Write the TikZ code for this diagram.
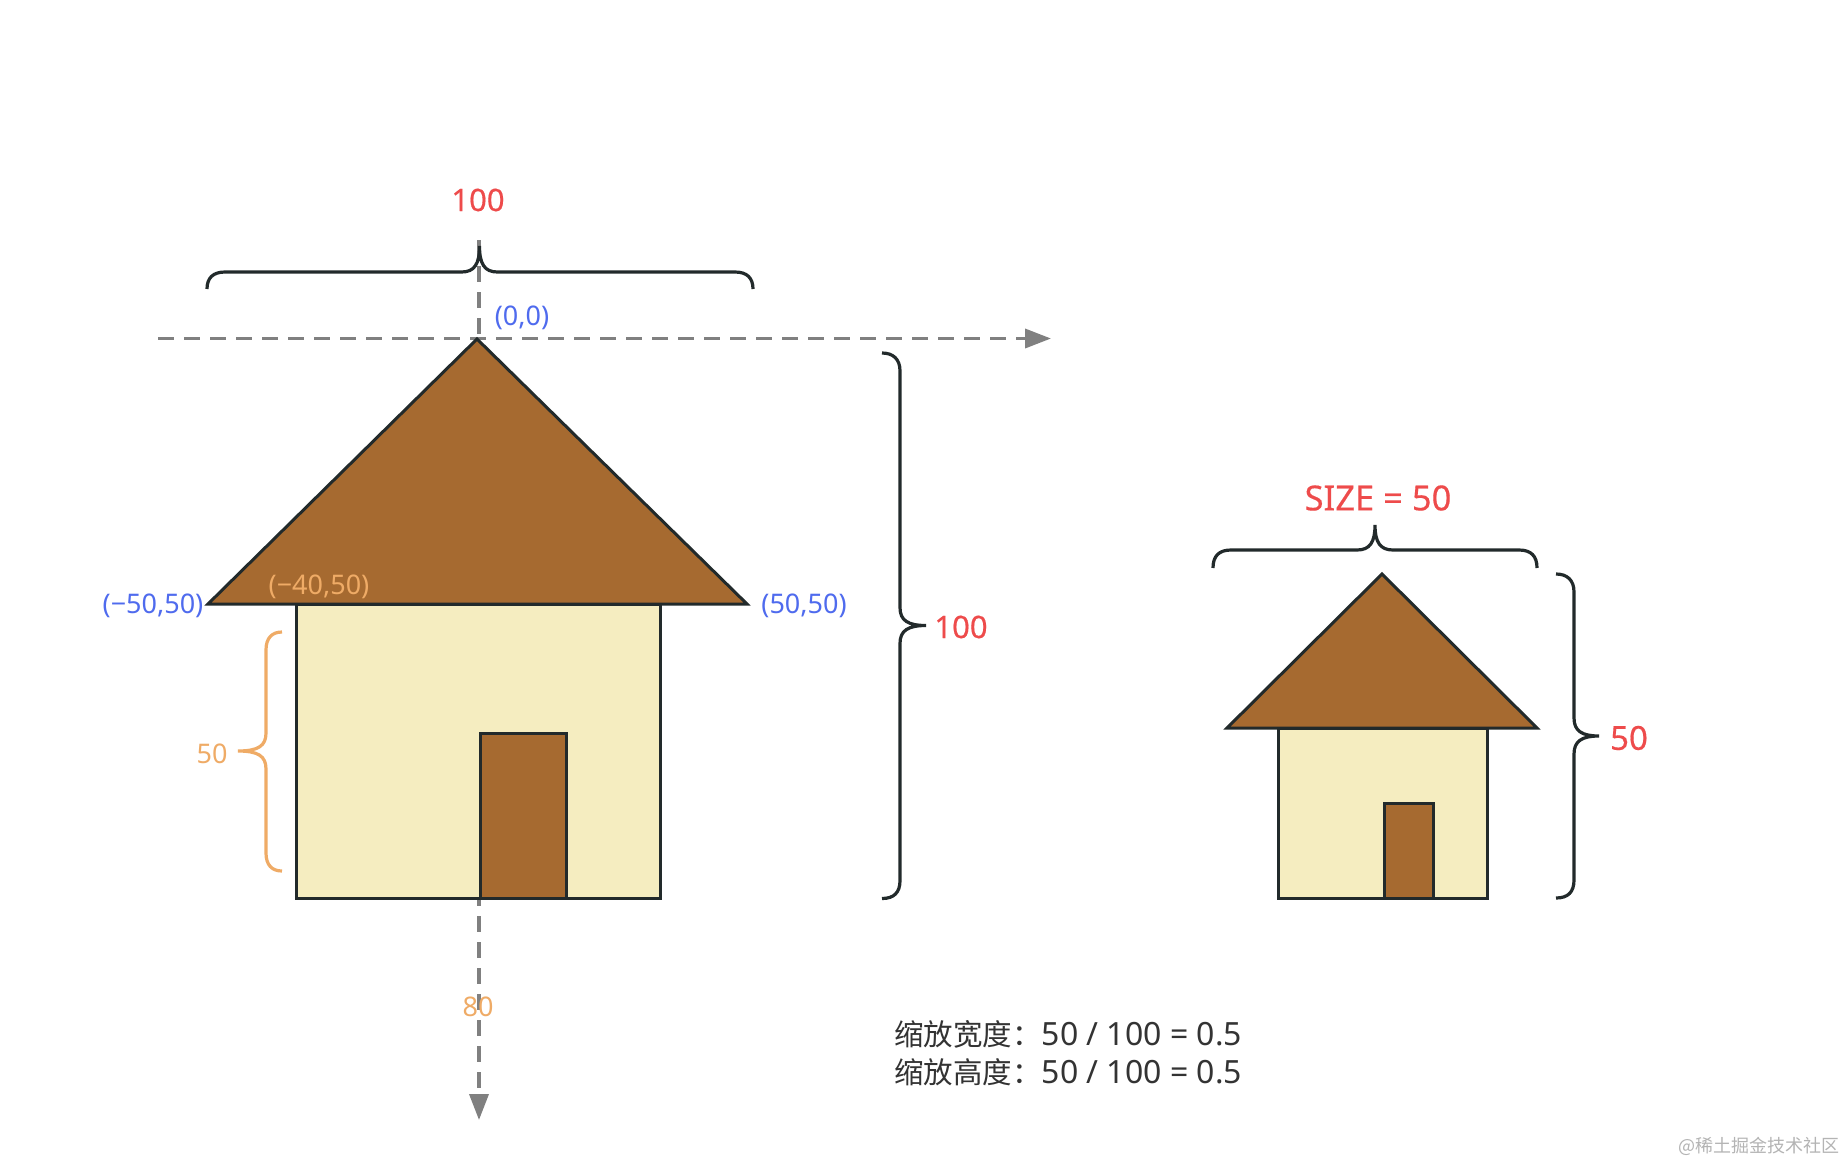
\documentclass[tikz,border=0pt]{standalone}
\usepackage{fontspec}
\setmainfont{Noto Sans}
\newfontfamily\cjk{Noto Sans CJK SC}
\newfontfamily\redfont[FakeBold=0.4]{Noto Sans}
\usetikzlibrary{arrows.meta}
\definecolor{ink}{HTML}{222A2B}
\definecolor{brown}{HTML}{A66A30}
\definecolor{cream}{HTML}{F5EDC0}
\definecolor{redlab}{HTML}{EE4B4B}
\definecolor{bluelab}{HTML}{4F6BEE}
\definecolor{orangelab}{HTML}{EFAB66}
\definecolor{axisgray}{HTML}{808080}
\definecolor{note}{HTML}{333333}
\definecolor{mark}{HTML}{B4B4B4}
\tikzset{
  axisline/.style={draw=axisgray,line width=3.6pt,dash pattern=on 16pt off 10pt,-{Triangle[length=26pt,width=19pt,color=axisgray]}},
  solid house/.style={draw=ink,line width=3pt,line join=miter},
  roofpart/.style={solid house,fill=brown},
  wallpart/.style={solid house,fill=cream},
  bracket/.style={draw=ink,line width=3.2pt,line cap=butt},
  orangebracket/.style={bracket,draw=orangelab},
  redlabel/.style={text=redlab,font=\redfont\fontsize{31}{36}\selectfont,inner sep=0pt},
  bluelabel/.style={text=bluelab,font=\fontsize{27}{30}\selectfont,inner sep=0pt},
  orangelabel/.style={text=orangelab,font=\fontsize{27}{30}\selectfont,inner sep=0pt},
  notelabel/.style={text=note,font=\fontsize{32}{36}\selectfont,inner sep=0pt,anchor=west},
  marklabel/.style={text=mark,font=\cjk\fontsize{18}{22}\selectfont,inner sep=0pt,anchor=east}
}
\newcommand{\cjktext}[1]{{\cjk\fontsize{29.5}{34}\selectfont #1}}
% horizontal brace opening downward: x1, xtip, x2, yend, yline, ytip
\newcommand{\topbrace}[7][bracket]{%
  \draw[#1] (#2,#5) .. controls (#2,#6+6) and (#2+6,#6) .. (#2+18,#6)
    -- (#3-18,#6) .. controls (#3-5,#6) and (#3,#6-8) .. (#3,#7)
    .. controls (#3,#6-8) and (#3+5,#6) .. (#3+18,#6)
    -- (#4-18,#6) .. controls (#4-6,#6) and (#4,#6+6) .. (#4,#5);}
% vertical brace: y1, ytip, y2, xend, xline, xtip
\newcommand{\sidebrace}[7][bracket]{%
  \draw[#1] (#5,#2) .. controls (#5+11,#2) and (#6,#2+6) .. (#6,#2+18)
    -- (#6,#3-18) .. controls (#6,#3-5) and (#6+8,#3) .. (#7,#3)
    .. controls (#6+8,#3) and (#6,#3+5) .. (#6,#3+18)
    -- (#6,#4-18) .. controls (#6,#4-6) and (#6-6,#4) .. (#5,#4);}
\begin{document}
\begin{tikzpicture}[x=1pt,y=-1pt]
\useasboundingbox (0,0) rectangle (1846,1162);
\fill[white] (0,0) rectangle (1846,1162);
% axes
\coordinate (ytop) at (479,240);
\coordinate (yend) at (479,1120);
\coordinate (xstart) at (158,338.5);
\coordinate (xend) at (1051,338.5);
\draw[axisline] (ytop) -- (yend);
\draw[axisline] (xstart) -- (xend);
% large house
\coordinate (apex) at (477,339);
\coordinate (baseL) at (208,604);
\coordinate (baseR) at (747,604);
\draw[wallpart] (296,604) rectangle (660,898);
\draw[roofpart] (480,733) rectangle (566,898);
\draw[roofpart] (apex) -- (baseR) -- (baseL) -- cycle;
% small house
\coordinate (apexS) at (1382,574);
\coordinate (baseSL) at (1227,728);
\coordinate (baseSR) at (1537,728);
\draw[wallpart] (1278,728) rectangle (1487,898);
\draw[roofpart] (1384,803) rectangle (1433,898);
\draw[roofpart] (apexS) -- (baseSR) -- (baseSL) -- cycle;
% braces
\topbrace{207}{479.5}{753}{289}{272}{246}
\topbrace{1213}{1375}{1537}{568}{550}{525}
\sidebrace{353}{625.5}{898.5}{882}{900}{926}
\sidebrace{574}{736}{898}{1556}{1574}{1599}
\draw[orangebracket] (282,632) .. controls (272,632) and (266,638) .. (266,650)
  -- (266,733) .. controls (266,746) and (258,751) .. (238,751)
  .. controls (258,751) and (266,756) .. (266,769)
  -- (266,853) .. controls (266,865) and (272,871) .. (282,871);
% labels
\node[redlabel] (wTop) at (478,200) {100};
\node[redlabel] (hBig) at (961,627) {100};
\node[redlabel,font=\redfont\fontsize{34.5}{38}\selectfont] (sizeL) at (1378,498) {SIZE = 50};
\node[redlabel,font=\redfont\fontsize{33}{38}\selectfont] (hSmall) at (1629,738) {50};
\node[bluelabel] (origin) at (522,318) {(0,0)};
\node[bluelabel] (ptL) at (153,606) {(−50,50)};
\node[bluelabel] (ptR) at (804,606) {(50,50)};
\node[orangelabel] (bodyPt) at (319,586.5) {(−40,50)};
\node[orangelabel] (halfH) at (212,754) {50};
\node[orangelabel] (wBody) at (478,1007) {80};
\node[notelabel] (n1) at (894,1034) {\cjktext{缩放宽度：}50 / 100 = 0.5};
\node[notelabel] (n2) at (894,1072) {\cjktext{缩放高度：}50 / 100 = 0.5};
\node[marklabel] (wm) at (1840,1146) {@稀土掘金技术社区};
\end{tikzpicture}
\end{document}
